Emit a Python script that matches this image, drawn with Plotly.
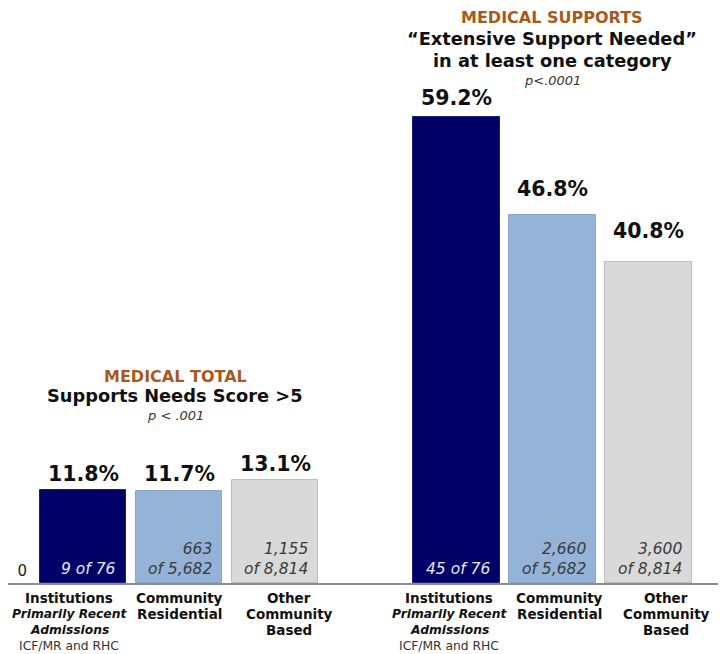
import plotly.graph_objects as go

# ---- data -------------------------------------------------------------
settings = ["Institutions", "Community Residential", "Other Community Based"]
setting_label_lines = [
    ["Institutions", "Primarily Recent", "Admissions", "ICF/MR and RHC"],
    ["Community", "Residential"],
    ["Other", "Community", "Based"],
]
panel_headers = ["MEDICAL TOTAL", "MEDICAL SUPPORTS"]
panel_subheaders = [
    ["Supports Needs Score >5"],
    ["\u201cExtensive Support Needed\u201d", "in at least one category"],
]
panel_p_values = ["p < .001", "p<.0001"]

medical_total_pct = [11.8, 11.7, 13.1]
medical_supports_pct = [59.2, 46.8, 40.8]
medical_total_count = [9, 663, 1155]
medical_supports_count = [45, 2660, 3600]
group_n = [76, 5682, 8814]

panels_pct = [medical_total_pct, medical_supports_pct]
panels_count = [medical_total_count, medical_supports_count]

# ---- styling ----------------------------------------------------------
FONT = "DejaVu Sans"
bar_fill = ["#000066", "#95B3D7", "#D9D9D9"]
bar_edge = ["#1F1F7A", "#8AA6C8", "#BDBDBD"]
inner_text_color = ["#E8E8F2", "#3A3A3A", "#3A3A3A"]
header_color = "#A65A1E"

W, H = 727, 654
plot_left, plot_right = 8, 718
baseline_px = 583
px_per_pct = 7.865
bar_pitch_px = 96
first_bar_px = 83
panel_offset = 3.89          # distance between panels, in bar pitches
bar_width = 0.9              # in bar pitches
zero_axis_px = 27            # where the value axis (only its "0") sits

x_lo = (plot_left - first_bar_px) / bar_pitch_px
x_hi = (plot_right - first_bar_px) / bar_pitch_px
y_hi = baseline_px / px_per_pct


def xpos(panel, i):
    return panel * panel_offset + i


def paper_y(px):
    return 1 - px / baseline_px


fig = go.Figure()

for i, name in enumerate(settings):
    fig.add_trace(go.Bar(
        x=[xpos(p, i) for p in range(2)],
        y=[panels_pct[p][i] for p in range(2)],
        width=bar_width,
        name=name,
        marker=dict(color=bar_fill[i], line=dict(color=bar_edge[i], width=1)),
        hoverinfo="skip",
        showlegend=False,
    ))

annotations = []

# value labels above bars
label_lift = [[16, 17, 16], [19, 26, 31]]
for p in range(2):
    for i in range(3):
        annotations.append(dict(
            x=xpos(p, i), y=panels_pct[p][i], xref="x", yref="y",
            text=f"<b>{panels_pct[p][i]:.1f}%</b>", showarrow=False,
            yanchor="middle", yshift=label_lift[p][i],
            font=dict(family=FONT, size=20.5, color="#111111"),
        ))

# counts inside the bars
for p in range(2):
    for i in range(3):
        k, n = panels_count[p][i], group_n[i]
        txt = f"{k:,} of {n:,}" if i == 0 else f"{k:,}<br>of {n:,}"
        annotations.append(dict(
            x=xpos(p, i) + bar_width / 2, y=0, xref="x", yref="y",
            text=f"<i>{txt}</i>", showarrow=False, align="right",
            xanchor="right", yanchor="bottom", xshift=-8, yshift=3,
            font=dict(family=FONT, size=15.5, color=inner_text_color[i]),
        ))

# category labels under the axis
cat_shift = [[-14, 0, 14], [-7, 7, 18]]
line_fmt = [
    [("<b>{}</b>", 13.5, "#111111"), ("<b><i>{}</i></b>", 12.3, "#111111"),
     ("<b><i>{}</i></b>", 12.3, "#111111"), ("{}", 12.3, "#333333")],
    [("<b>{}</b>", 13.5, "#111111")] * 2,
    [("<b>{}</b>", 13.5, "#111111")] * 3,
]
for p in range(2):
    for i in range(3):
        for j, line in enumerate(setting_label_lines[i]):
            fmt, size, color = line_fmt[i][j]
            annotations.append(dict(
                x=xpos(p, i), y=0, xref="x", yref="paper",
                text=fmt.format(line), showarrow=False,
                xanchor="center", yanchor="middle",
                xshift=cat_shift[p][i], yshift=-(15 + 16 * j),
                font=dict(family=FONT, size=size, color=color),
            ))

# panel headings
heading_px = [[376, 395, 415], [18, 39, 60, 81]]
heading_shift = [-4, 0]
for p in range(2):
    lines = ([(f"<b>{panel_headers[p]}</b>", 16, header_color)]
             + [(f"<b>{s}</b>", 17.8, "#111111") for s in panel_subheaders[p]]
             + [(f"<i>{panel_p_values[p]}</i>", 13, "#333333")])
    for (txt, size, color), py in zip(lines, heading_px[p]):
        annotations.append(dict(
            x=xpos(p, 1), y=paper_y(py), xref="x", yref="paper",
            text=txt, showarrow=False, xanchor="center", yanchor="middle",
            xshift=heading_shift[p],
            font=dict(family=FONT, size=size, color=color),
        ))

fig.update_layout(
    width=W, height=H,
    margin=dict(l=plot_left, r=W - plot_right, t=0, b=H - baseline_px),
    paper_bgcolor="white", plot_bgcolor="white",
    bargap=0, barmode="overlay",
    annotations=annotations,
    font=dict(family=FONT),
    xaxis=dict(range=[x_lo, x_hi], showgrid=False, zeroline=False,
               showticklabels=False, ticks="", showline=True,
               linecolor="#8C8C8C", linewidth=2, fixedrange=True),
    yaxis=dict(range=[0, y_hi], showgrid=False, zeroline=False,
               showline=False, tickvals=[0], ticktext=["0"], ticks="",
               anchor="free",
               position=(zero_axis_px - plot_left) / (plot_right - plot_left),
               ticklabelshift=-12,
               tickfont=dict(family=FONT, size=15, color="#222222"),
               fixedrange=True),
)

fig.write_html("out.html")
